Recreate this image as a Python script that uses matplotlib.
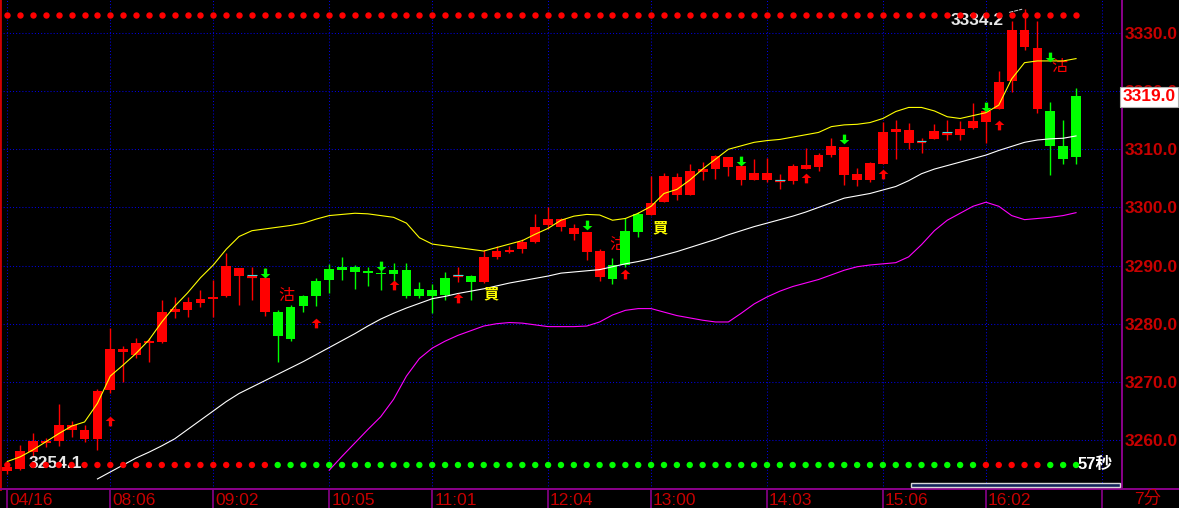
import numpy as np
import matplotlib
matplotlib.use("Agg")
import matplotlib.pyplot as plt
from matplotlib.path import Path
from matplotlib import transforms

plt.rcParams['font.family'] = ['Liberation Sans', 'Noto Sans CJK TC', 'DejaVu Sans']

# bougies (index 0 = 04/16)
opens = [3254.7, 3255.0, 3257.9, 3259.5, 3259.8, 3261.8, 3260.2, 3260.2, 3268.6, 3275.1,
         3274.6, 3276.7, 3276.9, 3282.1, 3282.4, 3283.6, 3284.2, 3284.8, 3288.2, 3288.1,
         3282.1, 3282.0, 3282.9, 3284.8, 3287.3, 3289.4, 3289.8, 3289.8, 3289.1, 3288.8,
         3289.2, 3289.2, 3286.0, 3285.8, 3287.9, 3288.2, 3288.2, 3287.2, 3291.4, 3292.4,
         3292.9, 3294.1, 3297.0, 3296.6, 3295.4, 3292.4, 3288.1, 3290.1, 3295.9, 3298.9,
         3298.7, 3301.0, 3302.1, 3302.1, 3306.1, 3306.6, 3307.0, 3304.7, 3304.7, 3304.8,
         3304.5, 3304.5, 3306.6, 3307.0, 3309.0, 3305.6, 3304.7, 3304.7, 3307.5, 3312.9,
         3311.1, 3311.3, 3311.7, 3312.7, 3312.5, 3313.7, 3314.7, 3316.9, 3321.8, 3327.6,
         3316.9, 3316.6, 3310.6, 3319.2]
highs = [3255.5, 3259.1, 3261.2, 3260.3, 3266.2, 3263.3, 3262.6, 3268.8, 3279.2, 3276.2,
         3277.5, 3277.5, 3284.1, 3284.6, 3284.6, 3285.8, 3287.5, 3292.1, 3289.6, 3289.8,
         3289.6, 3282.3, 3283.2, 3284.9, 3287.9, 3290.3, 3291.5, 3290.1, 3289.8, 3290.2,
         3290.4, 3290.4, 3287.2, 3286.8, 3288.9, 3289.7, 3288.3, 3292.7, 3293.3, 3293.4,
         3294.6, 3298.8, 3300.0, 3298.2, 3297.1, 3295.8, 3292.8, 3291.3, 3298.1, 3299.3,
         3305.4, 3306.0, 3306.0, 3307.5, 3307.9, 3309.1, 3308.7, 3307.2, 3308.3, 3308.5,
         3305.7, 3307.4, 3310.2, 3309.3, 3312.0, 3310.4, 3306.7, 3307.9, 3314.7, 3315.0,
         3314.5, 3312.0, 3314.3, 3315.0, 3314.9, 3318.0, 3316.6, 3323.5, 3332.0, 3334.2,
         3332.0, 3318.2, 3315.0, 3320.6]
lows = [3254.1, 3254.8, 3257.1, 3258.8, 3259.0, 3260.6, 3259.7, 3258.3, 3268.1, 3270.0,
        3274.1, 3273.4, 3276.7, 3281.0, 3281.2, 3282.8, 3281.2, 3284.6, 3283.2, 3284.1,
        3281.4, 3273.5, 3277.0, 3282.1, 3283.0, 3285.3, 3287.5, 3286.0, 3286.5, 3285.8,
        3287.2, 3284.5, 3284.5, 3281.8, 3284.0, 3287.2, 3284.1, 3287.0, 3291.2, 3292.1,
        3292.2, 3293.8, 3296.3, 3296.0, 3294.4, 3291.0, 3287.4, 3286.8, 3289.8, 3294.9,
        3298.7, 3301.0, 3301.3, 3302.1, 3304.8, 3304.9, 3305.4, 3303.9, 3304.7, 3304.4,
        3303.1, 3304.1, 3306.6, 3306.3, 3308.6, 3303.9, 3303.7, 3304.4, 3307.5, 3308.4,
        3310.0, 3309.3, 3311.7, 3311.6, 3311.6, 3313.5, 3311.1, 3316.9, 3319.9, 3327.0,
        3316.3, 3305.5, 3307.5, 3307.5]
closes = [3255.3, 3258.1, 3259.8, 3259.9, 3262.6, 3262.6, 3261.7, 3268.4, 3275.6, 3275.6,
          3276.7, 3277.0, 3282.1, 3282.5, 3283.7, 3284.2, 3284.6, 3289.9, 3289.6, 3288.1,
          3287.9, 3277.9, 3277.4, 3283.0, 3284.8, 3287.5, 3289.2, 3288.9, 3288.7, 3288.6,
          3288.5, 3284.8, 3284.8, 3284.8, 3284.9, 3288.2, 3287.2, 3291.4, 3292.5, 3292.7,
          3294.1, 3296.6, 3298.0, 3298.0, 3296.5, 3295.8, 3292.5, 3287.7, 3290.1, 3295.8,
          3300.7, 3305.4, 3305.2, 3306.3, 3306.6, 3308.8, 3308.7, 3307.2, 3305.9, 3305.9,
          3304.5, 3307.2, 3307.3, 3309.0, 3310.6, 3310.4, 3305.7, 3307.7, 3312.9, 3313.5,
          3313.3, 3311.3, 3313.1, 3312.7, 3313.5, 3314.9, 3316.6, 3321.5, 3330.5, 3330.5,
          3327.5, 3310.6, 3308.3, 3308.6]

# courbes
upper_band = [3256.3, 3257.1, 3258.3, 3259.7, 3261.1, 3262.4, 3263.1, 3266.3, 3271.0, 3272.9,
              3274.9, 3277.2, 3280.3, 3283.0, 3285.3, 3287.9, 3290.1, 3292.8, 3295.0, 3296.0,
              3296.3, 3296.6, 3296.9, 3297.3, 3298.0, 3298.6, 3298.8, 3299.0, 3298.9, 3298.6,
              3298.3, 3297.3, 3294.8, 3293.7, 3293.4, 3293.1, 3292.8, 3292.5, 3293.1, 3293.7,
              3294.3, 3295.4, 3296.4, 3297.8, 3298.5, 3298.8, 3298.7, 3297.8, 3298.1, 3299.0,
              3300.2, 3302.4, 3303.1, 3304.7, 3306.6, 3308.3, 3310.0, 3310.6, 3311.2, 3311.5,
              3311.7, 3312.1, 3312.5, 3312.9, 3313.9, 3314.2, 3314.3, 3314.6, 3315.3, 3316.5,
              3317.2, 3317.2, 3316.6, 3315.6, 3315.3, 3315.8, 3316.3, 3317.6, 3322.1, 3324.9,
              3325.2, 3325.2, 3325.2, 3325.6]
mid_start = 7
mid_line = [3253.3, 3254.5, 3255.7, 3256.9, 3257.9, 3259.0, 3260.2, 3261.8, 3263.4, 3265.0,
            3266.6, 3268.0, 3269.1, 3270.2, 3271.3, 3272.4, 3273.5, 3274.7, 3275.9, 3277.1,
            3278.3, 3279.6, 3280.8, 3281.8, 3282.7, 3283.5, 3284.3, 3284.7, 3285.2, 3285.6,
            3286.0, 3286.5, 3287.0, 3287.4, 3287.8, 3288.2, 3288.7, 3288.9, 3289.1, 3289.3,
            3289.8, 3290.3, 3290.7, 3291.2, 3291.8, 3292.4, 3293.1, 3293.8, 3294.5, 3295.3,
            3296.0, 3296.7, 3297.3, 3297.9, 3298.5, 3299.2, 3300.0, 3300.8, 3301.6, 3302.0,
            3302.4, 3303.0, 3303.6, 3304.6, 3305.8, 3306.6, 3307.2, 3307.8, 3308.4, 3309.0,
            3309.8, 3310.5, 3311.2, 3311.6, 3311.8, 3311.9, 3312.3]
lower_start = 25
lower_band = [3254.8, 3257.2, 3259.5, 3261.8, 3264.0, 3267.0, 3271.0, 3274.0, 3275.8, 3277.0,
              3278.0, 3278.8, 3279.6, 3280.0, 3280.2, 3280.1, 3279.8, 3279.5, 3279.5, 3279.5,
              3279.6, 3280.3, 3281.5, 3282.3, 3282.6, 3282.6, 3282.0, 3281.4, 3281.0, 3280.6,
              3280.3, 3280.3, 3281.8, 3283.4, 3284.6, 3285.6, 3286.4, 3287.0, 3287.6, 3288.4,
              3289.2, 3289.8, 3290.1, 3290.3, 3290.5, 3291.5, 3293.6, 3296.0, 3297.8, 3299.0,
              3300.2, 3300.9, 3300.2, 3298.6, 3297.9, 3298.1, 3298.3, 3298.6, 3299.1]

# axe du temps
tick_idx = [0, 8, 16, 25, 33, 42, 50, 59, 68, 76, 85]
tick_labels = ['04/16', '08:06', '09:02', '10:05', '11:01', '12:04', '13:00', '14:03', '15:06', '16:02', '']
price_ticks = [3260, 3270, 3280, 3290, 3300, 3310, 3320, 3330]

# signaux
sell_idx = [20, 29, 45, 57, 65, 76, 81]
sell_y = [3288.8, 3289.9, 3296.9, 3308.0, 3311.8, 3317.2, 3325.9]
buy_idx = [8, 24, 30, 35, 48, 62, 68, 77]
buy_y = [3263.3, 3280.2, 3286.7, 3284.5, 3288.5, 3305.0, 3305.7, 3314.1]
gu_x = [21.7, 47.4, 81.7]
gu_y = [3284.9, 3293.7, 3324.2]
mai_x = [37.6, 50.7]
mai_y = [3285.3, 3296.6]

top_level = 3333.1
bottom_level = 3255.7
bottom_state = "R" * 21 + "G" * 55 + "R" * 5 + "G" * 3

last_price = 3319.0
day_high = 3334.2
day_low = 3254.1

RED = '#ff0000'
GREEN = '#00ff00'
AXRED = '#c80000'
PURPLE = '#8b008b'

fig = plt.figure(figsize=(11.79, 5.08), dpi=100, facecolor='black')
ax = fig.add_axes([0, 19 / 508, 1122 / 1179, 489 / 508], facecolor='black')

n = len(opens)
x = np.arange(n)
o = np.array(opens)
c = np.array(closes)
h = np.array(highs)
l = np.array(lows)
up = c >= o
cols = np.where(up, RED, GREEN)

# mèches + corps
ax.vlines(x, l, h, colors=cols, lw=1.0, zorder=3)
body = np.abs(c - o)
ax.bar(x, body, bottom=np.minimum(o, c), width=0.76, color=cols, edgecolor='none', zorder=4)
doji = body == 0
ax.hlines(o[doji], x[doji] - 0.38, x[doji] + 0.38, colors=RED, lw=1.6, zorder=5)
ax.hlines(o[doji] + 0.2, x[doji] - 0.38, x[doji] + 0.38, colors='#40e0e0', lw=0.8, zorder=5)

# courbes
ax.plot(x, upper_band, color='#ffff00', lw=0.8, zorder=6)
ax.plot(np.arange(mid_start, mid_start + len(mid_line)), mid_line, color='white', lw=0.8, zorder=6)
ax.plot(np.arange(lower_start, lower_start + len(lower_band)), lower_band, color='#ff00ff', lw=0.8, zorder=6)

# flèches
up_arrow = Path([(0, 0.5), (0.5, 0.05), (0.17, 0.05), (0.17, -0.5), (-0.17, -0.5),
                 (-0.17, 0.05), (-0.5, 0.05), (0, 0.5)], closed=True)
down_arrow = Path([(px, -py) for px, py in up_arrow.vertices], closed=True)
ax.plot(buy_idx, buy_y, ls='none', marker=up_arrow, ms=7, color=RED, mec='none', zorder=7)
ax.plot(sell_idx, sell_y, ls='none', marker=down_arrow, ms=7, color=GREEN, mec='none', zorder=7)

# étiquettes de signaux
for gx, gy in zip(gu_x, gu_y):
    ax.text(gx, gy, '沽', color=RED, fontsize=11.5, family=['Noto Sans CJK TC'],
            ha='center', va='center', zorder=2)
for mx, my in zip(mai_x, mai_y):
    ax.text(mx, my, '買', color='#ffff00', fontsize=11, fontweight='bold',
            family=['Noto Sans CJK TC'], ha='center', va='center', zorder=7)

# plus haut / plus bas
ax.annotate(f'{day_high:.1f}', xy=(79, day_high), xytext=(77.4, 3332.2), color='#e8e8e8',
            fontsize=12.5, fontweight='bold', ha='right', va='center', zorder=7,
            arrowprops=dict(arrowstyle='-', color='#d0d0d0', lw=0.7, ls='--'))
ax.text(1.65, 3255.95, f'{day_low:.1f}', color='#e8e8e8', fontsize=12.5, fontweight='bold',
        ha='left', va='center', zorder=7)

# rangées de points
ax.plot(x, [top_level] * n, ls='none', marker='o', ms=4.6, color=RED, mec='none', zorder=8)
bcols = [RED if s == 'R' else GREEN for s in bottom_state]
ax.scatter(x, [bottom_level] * n, s=21, c=bcols, edgecolors='none', zorder=8)

ax.text(84.5, 3255.8, '57秒', color='white', fontsize=12, fontweight='bold', ha='center',
        va='center', zorder=9)

# axes
ax.set_xlim(-0.567, 86.57)
ax.set_ylim(3251.57, 3335.68)
ax.set_xticks(tick_idx)
ax.set_xticklabels(tick_labels, ha='left', color=AXRED, fontsize=12.5)
ax.yaxis.tick_right()
ax.set_yticks(price_ticks)
ax.set_yticklabels([f'{v:.1f}' for v in price_ticks], color=AXRED, fontsize=12.5, fontweight='bold')
ax.tick_params(axis='both', length=0)
ax.tick_params(axis='x', pad=3)
ax.tick_params(axis='y', pad=2)
for lab in ax.get_xticklabels():
    lab.set_transform(lab.get_transform() + transforms.ScaledTranslation(2 / 100, 0, fig.dpi_scale_trans))
ax.grid(True, color='#0000e0', ls=(0, (1, 2)), lw=0.75)
ax.set_axisbelow(True)

ax.spines['top'].set_visible(False)
ax.spines['left'].set_color('#d00000')
ax.spines['left'].set_linewidth(2)
ax.spines['right'].set_color(PURPLE)
ax.spines['right'].set_linewidth(1.4)
ax.spines['bottom'].set_color(PURPLE)
ax.spines['bottom'].set_linewidth(1.4)

# traits verticaux sous l'axe du temps
ax.vlines(tick_idx, -19 / 489, 0, colors=PURPLE, lw=1.2,
          transform=transforms.blended_transform_factory(ax.transData, ax.transAxes), clip_on=False)
fig.add_artist(plt.Line2D([1122 / 1179, 1], [19 / 508, 19 / 508], color=PURPLE, lw=1.4))

# dernier prix (masque l'étiquette 3320.0 comme dans l'original)
ax.text(1.0005, last_price, f'{last_price:.1f}', color=RED, fontsize=12.5, fontweight='bold',
        ha='left', va='center', zorder=10,
        transform=transforms.blended_transform_factory(ax.transAxes, ax.transData),
        bbox=dict(boxstyle='square,pad=0.12', fc='white', ec='#b0b0b0', lw=0.8), clip_on=False)

# barre de progression
ax.add_patch(plt.Rectangle((70.2, 3251.9), 16.2, 0.7, fc='#12235a', ec='#d8d8d8', lw=1.0,
                           zorder=9, clip_on=False))

fig.text(1148 / 1179, 9 / 508, '7分', color=AXRED, fontsize=12.5, ha='center', va='center')

fig.savefig('out.png', dpi=100, facecolor='black')
